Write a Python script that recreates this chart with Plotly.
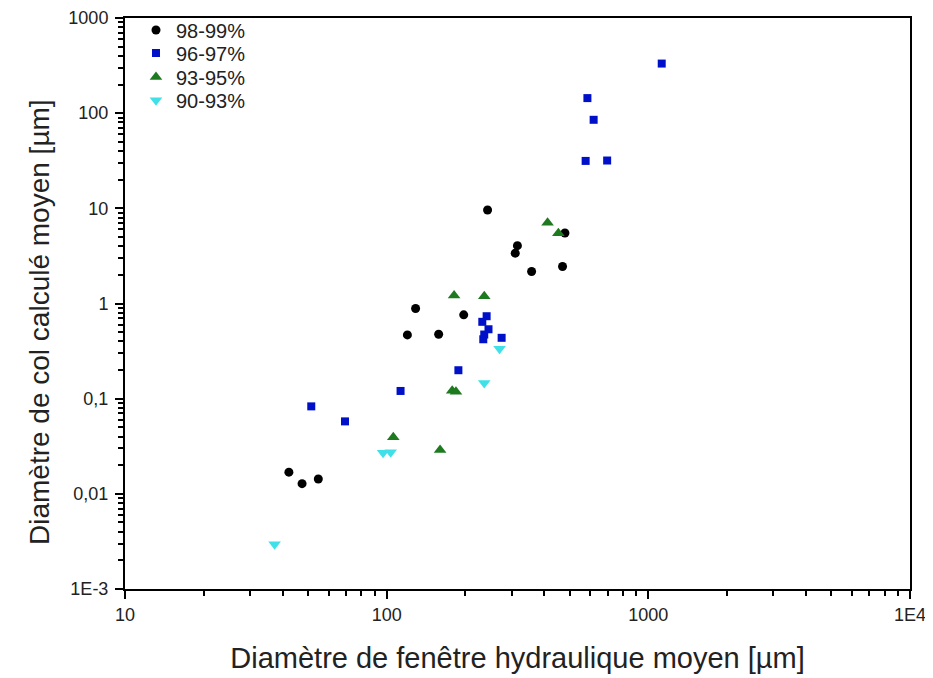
import numpy as np
import plotly.graph_objects as go

# Diamètre de fenêtre hydraulique moyen [µm] (x) / diamètre de col calculé moyen [µm] (y)
X_98 = [243, 480, 316, 310, 358, 470, 129, 197, 120, 158, 42.3, 47.5, 54.8]
Y_98 = [9.6, 5.5, 4.05, 3.38, 2.17, 2.45, 0.886, 0.76, 0.468, 0.475, 0.0169, 0.0128, 0.0143]

X_96 = [1125, 585, 618, 576, 696, 241, 232, 245, 236, 234, 275, 188, 113, 51.5, 69.3]
Y_96 = [332, 144, 85.2, 31.5, 31.8, 0.735, 0.642, 0.536, 0.472, 0.421, 0.436, 0.199, 0.1205, 0.083, 0.0577]

X_93 = [412, 453, 181, 236, 178, 184, 106, 160]
Y_93 = [7.04, 5.46, 1.21, 1.19, 0.121, 0.118, 0.0392, 0.0288]

X_90 = [270, 236, 96.9, 103.6, 37.3]
Y_90 = [0.334, 0.146, 0.027, 0.0274, 0.00296]

SERIES = [
    ("98-99%", X_98, Y_98, "circle", "#000000", 9),
    ("96-97%", X_96, Y_96, "square", "#0010c8", 8),
    ("93-95%", X_93, Y_93, "triangle-up", "#1e7a1e", 11),
    ("90-93%", X_90, Y_90, "triangle-down", "#40e0e8", 11),
]

X_TICKS = [10, 100, 1000, 10000]
X_TICKTEXT = ["10", "100", "1000", "1E4"]
Y_TICKS = [0.001, 0.01, 0.1, 1, 10, 100, 1000]
Y_TICKTEXT = ["1E-3", "0,01", "0,1", "1", "10", "100", "1000"]

# one legend box per series so the rows can sit as tight as in the original
LEGEND_ROWS_Y = [0.979, 0.9386, 0.8965, 0.856]


def _minor(lo_exp, hi_exp):
    return [m * 10.0 ** e for e in range(lo_exp, hi_exp) for m in range(2, 10)]


fig = go.Figure()
legend_layout = {}
for n, (name, xs, ys, sym, col, sz) in enumerate(SERIES):
    key = "legend" if n == 0 else f"legend{n + 1}"
    fig.add_trace(
        go.Scatter(
            x=xs,
            y=ys,
            mode="markers",
            name=name,
            legend=key,
            marker=dict(symbol=sym, size=sz, color=col, line=dict(width=0)),
        )
    )
    legend_layout[key] = dict(
        x=0.014,
        y=LEGEND_ROWS_Y[n],
        xanchor="left",
        yanchor="middle",
        bgcolor="rgba(0,0,0,0)",
        font=dict(size=20),
        itemwidth=30,
    )

axis_common = dict(
    type="log",
    showline=True,
    linecolor="black",
    linewidth=2,
    mirror=True,
    showgrid=False,
    zeroline=False,
    ticks="outside",
    ticklen=8,
    tickwidth=1.5,
    tickcolor="black",
    tickfont=dict(size=18, color="#222222"),
    automargin=False,
)

fig.update_xaxes(
    **axis_common,
    range=[1, 4],
    tickmode="array",
    tickvals=X_TICKS,
    ticktext=X_TICKTEXT,
    minor=dict(tickmode="array", tickvals=_minor(1, 4), ticks="outside",
               ticklen=5, tickwidth=1.5, tickcolor="black", showgrid=False),
    title=dict(text="Diamètre de fenêtre hydraulique moyen [µm]",
               font=dict(size=29, color="#222222"), standoff=24),
)
fig.update_yaxes(
    **axis_common,
    range=[-3, 3],
    tickmode="array",
    tickvals=Y_TICKS,
    ticktext=Y_TICKTEXT,
    ticklabelstandoff=3,
    minor=dict(tickmode="array", tickvals=_minor(-3, 3), ticks="outside",
               ticklen=5, tickwidth=1.5, tickcolor="black", showgrid=False),
)

# y title as annotation: it sits a little below the plot centre in the original
fig.add_annotation(
    text="Diamètre de col calculé moyen [µm]",
    xref="paper",
    yref="paper",
    x=-0.131,
    y=0.467,
    textangle=-90,
    showarrow=False,
    font=dict(size=28, color="#222222"),
)

# page body adds an 8 px offset, margins compensate for it;
# autoexpand off so the legend rows near the top don't push the plot down
fig.update_layout(
    width=933,
    height=678,
    margin=dict(l=117, r=31, t=10, b=97, autoexpand=False),
    plot_bgcolor="white",
    paper_bgcolor="white",
    font=dict(family="Liberation Sans, Arial, sans-serif", color="#222222"),
    showlegend=True,
    **legend_layout,
)

fig.write_html("out.html")
